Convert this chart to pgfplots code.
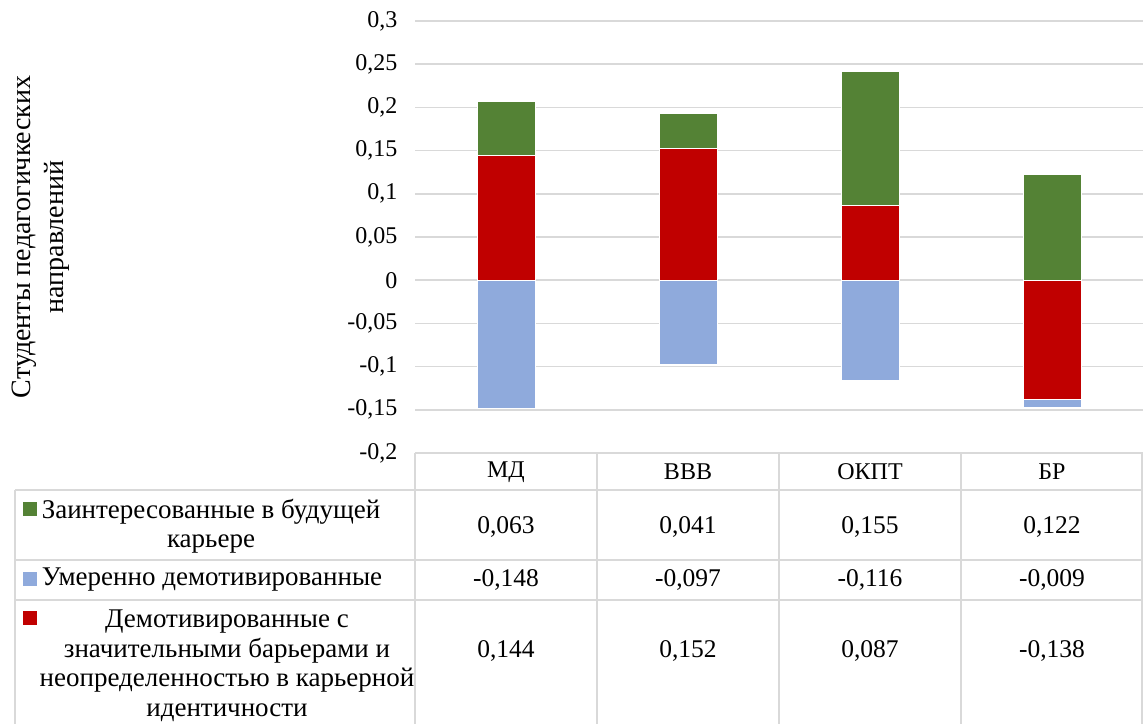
\documentclass[border=0pt]{standalone}
\usepackage{fontspec}
\setmainfont{Liberation Serif}
\usepackage{pgfplots}
\usepackage{pgfplotstable}
\pgfplotsset{compat=1.18}

\definecolor{zgreen}{HTML}{548235}
\definecolor{zblue}{HTML}{8FAADC}
\definecolor{zred}{HTML}{C00000}
\definecolor{zgrid}{HTML}{D9D9D9}

% green = Заинтересованные, blue = Умеренно, red = Демотивированные с барьерами
\pgfplotstableread{
x cat  green  blue   red
0 МД   0.063 -0.148  0.144
1 ВВВ  0.041 -0.097  0.152
2 ОКПТ 0.155 -0.116  0.087
3 БР   0.122 -0.009 -0.138
}\data

\begin{document}
\begin{tikzpicture}[x=1pt, y=1pt, font=\fontsize{24}{29}\selectfont]
\useasboundingbox (0,0) rectangle (1143,724);
\tikzset{bar/.style={ybar, bar width=58pt, bar shift=0pt, draw=white, line width=0.8pt}}
\begin{axis}[
  at={(415pt,271pt)}, anchor=south west,
  width=728pt, height=432pt, scale only axis,
  xmin=-0.5, xmax=3.5, ymin=-0.2, ymax=0.3,
  xtick={0,1,2,3},
  xticklabels from table={\data}{cat},
  xticklabel style={anchor=center, yshift=-19pt},
  ytick={-0.2,-0.15,-0.1,-0.05,0,0.05,0.1,0.15,0.2,0.25,0.3},
  yticklabel style={xshift=-14pt, /pgf/number format/.cd, fixed, precision=2, use comma, assume math mode=true},
  ymajorgrids,
  major grid style={draw=zgrid, line width=1.5pt},
  axis line style={draw=none},
  major tick length=0pt,
]
% positive stack: red at base, green on top
\addplot[bar, fill=zgreen] table[x=x, y expr={max(\thisrow{red},0)+\thisrow{green}}]{\data};
% negative stack: red at base (БР), blue below
\addplot[bar, fill=zblue] table[x=x, y expr={min(\thisrow{red},0)+\thisrow{blue}}]{\data};
\addplot[bar, fill=zred] table[x=x, y=red]{\data};
\end{axis}

% y axis title
\node[rotate=90, align=center, font=\fontsize{28}{33}\selectfont] at (41,487) {Студенты педагогичкеских\\направлений};

% data table
\begin{scope}[draw=zgrid, line width=1.5pt]
  \draw (415,271) -- (1143,271);
  \draw (15,234) -- (1143,234);
  \draw (15,164) -- (1143,164);
  \draw (15,124) -- (1143,124);
  \draw (15,234) -- (15,0);
  \foreach \xx in {415,597,779,961,1142} \draw (\xx,271) -- (\xx,0);
\end{scope}

\fill[zgreen] (23,208) rectangle (37,222);
\fill[zblue] (23,138) rectangle (37,152);
\fill[zred] (23,99) rectangle (37,113);

\begin{scope}[every node/.style={font=\fontsize{27}{29.5}\selectfont}]
\node[align=center] at (211,198) {Заинтересованные в будущей\\карьере};
\node at (212,144) {Умеренно демотивированные};
\node[align=center] at (227,58) {Демотивированные с\\значительными барьерами и\\неопределенностью в карьерной\\идентичности};
\end{scope}

\foreach \i in {0,1,2,3} {
  \pgfmathsetmacro\cx{415+182*(\i+0.5)}
  \pgfplotstablegetelem{\i}{green}\of\data \let\vg\pgfplotsretval
  \pgfplotstablegetelem{\i}{blue}\of\data \let\vb\pgfplotsretval
  \pgfplotstablegetelem{\i}{red}\of\data \let\vr\pgfplotsretval
  \begin{scope}[every node/.style={font=\fontsize{25.5}{29}\selectfont}]
  \node at (\cx,197) {\pgfmathprintnumber[fixed, fixed zerofill, precision=3, use comma, assume math mode=true]{\vg}};
  \node at (\cx,144) {\pgfmathprintnumber[fixed, fixed zerofill, precision=3, use comma, assume math mode=true]{\vb}};
  \node at (\cx,73) {\pgfmathprintnumber[fixed, fixed zerofill, precision=3, use comma, assume math mode=true]{\vr}};
  \end{scope}
}
\end{tikzpicture}
\end{document}
